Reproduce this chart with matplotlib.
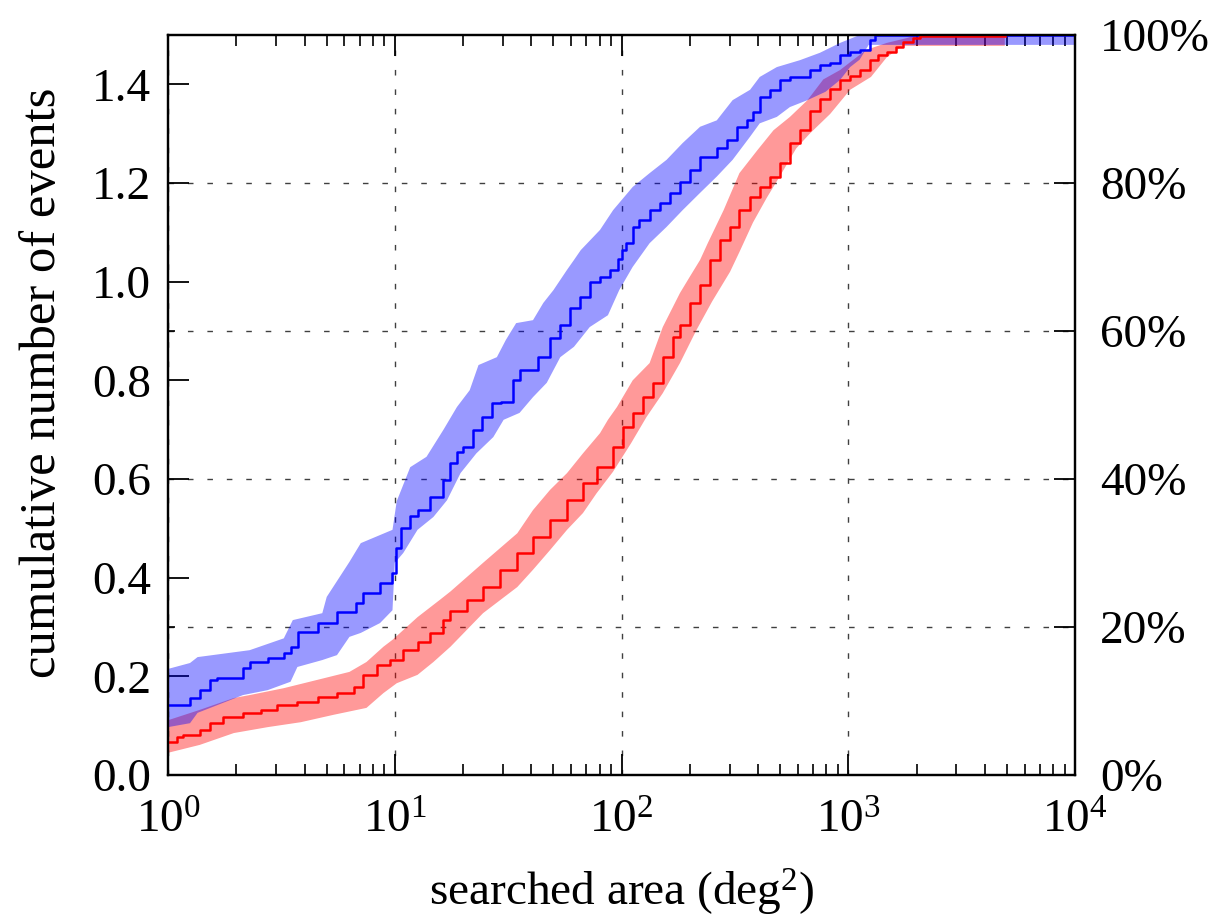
import numpy as np
import matplotlib
matplotlib.use("Agg")
import matplotlib.pyplot as plt
from matplotlib.ticker import LogLocator, FixedLocator, NullFormatter

plt.rcParams['font.family'] = ['Liberation Serif', 'DejaVu Serif']
plt.rcParams['mathtext.fontset'] = 'custom'
plt.rcParams['mathtext.rm'] = 'Liberation Serif'
plt.rcParams['mathtext.it'] = 'Liberation Serif:italic'
plt.rcParams['mathtext.bf'] = 'Liberation Serif:bold'

# ---------------- data ----------------
# blue: median cumulative curve
blue_area = [1.0, 1.25, 1.38, 1.53, 1.64, 2.14, 2.29, 2.75, 3.24, 3.47, 3.74, 4.57,
             5.56, 6.76, 7.24, 8.61, 9.77, 10.1, 10.7, 11.7, 12.6, 14.3, 16.4, 17.6,
             18.8, 20.0, 22.1, 24.3, 26.9, 29.5, 33.1, 35.5, 42.7, 48.4, 53.7, 59.3,
             65.6, 72.4, 80.4, 89.1, 96.6, 100, 105, 112, 120, 133, 148, 164, 181,
             200, 222, 263, 292, 324, 357, 380, 407, 452, 501, 553, 676, 750, 832,
             920, 1019, 1122, 1247, 1318, 10000]
blue_cum = [0.142, 0.156, 0.172, 0.193, 0.197, 0.217, 0.229, 0.237, 0.247, 0.260, 0.289, 0.308,
            0.330, 0.348, 0.369, 0.390, 0.410, 0.460, 0.500, 0.525, 0.537, 0.564, 0.598, 0.632,
            0.655, 0.665, 0.700, 0.725, 0.754, 0.756, 0.800, 0.821, 0.847, 0.886, 0.912, 0.946,
            0.969, 0.999, 1.010, 1.024, 1.045, 1.064, 1.078, 1.111, 1.125, 1.145, 1.159, 1.180, 1.202,
            1.226, 1.253, 1.270, 1.287, 1.314, 1.327, 1.344, 1.375, 1.389, 1.409, 1.415, 1.429, 1.439, 1.443,
            1.460, 1.466, 1.470, 1.490, 1.500, 1.500]

blue_hi_area = [1.0, 1.25, 1.35, 2.29, 3.24, 3.55, 4.79, 5.01, 6.31, 7.08, 9.77, 10.2,
                11.7, 13.8, 16.4, 18.8, 21.4, 23.4, 28.2, 30.9, 34.3, 40.7, 45.2, 50.1,
                57.5, 61.7, 66.1, 80.4, 91.8, 112, 133, 158, 186, 222, 263, 309, 369,
                407, 484, 612, 750, 920, 1122, 10000]
blue_hi = [0.215, 0.227, 0.239, 0.253, 0.277, 0.314, 0.328, 0.361, 0.432, 0.470, 0.497, 0.555,
           0.624, 0.645, 0.700, 0.746, 0.780, 0.831, 0.847, 0.882, 0.916, 0.922, 0.957, 0.983,
           1.024, 1.044, 1.064, 1.105, 1.145, 1.192, 1.220, 1.247, 1.281, 1.314, 1.327, 1.368, 1.389,
           1.415, 1.435, 1.449, 1.464, 1.484, 1.500, 1.500]

blue_lo_area = [1.0, 1.25, 1.35, 2.14, 2.75, 3.47, 3.72, 4.79, 5.56, 6.31, 7.08, 8.61,
                9.77, 10.0, 10.9, 12.6, 14.8, 17.0, 19.5, 22.9, 27.2, 30.2, 35.5, 40.7,
                46.8, 53.7, 61.7, 72.4, 87.1, 97.7, 112, 133, 158, 186, 222, 263, 309,
                369, 407, 484, 553, 661, 794, 920, 1019, 1122, 1230, 10000]
blue_lo = [0.097, 0.105, 0.126, 0.162, 0.172, 0.189, 0.219, 0.233, 0.243, 0.280, 0.288, 0.308,
           0.334, 0.430, 0.450, 0.497, 0.523, 0.557, 0.612, 0.652, 0.685, 0.720, 0.734, 0.766,
           0.795, 0.847, 0.868, 0.908, 0.932, 0.983, 1.030, 1.078, 1.111, 1.145, 1.180, 1.213, 1.247,
           1.294, 1.321, 1.334, 1.354, 1.368, 1.385, 1.409, 1.435, 1.450, 1.480, 1.480]

# red: median cumulative curve
red_area = [1.0, 1.10, 1.17, 1.38, 1.53, 1.74, 2.14, 2.57, 3.02, 3.72, 4.57, 5.56,
            6.61, 7.24, 8.32, 9.55, 10.9, 12.6, 14.3, 16.4, 17.6, 20.9, 24.5, 29.1,
            34.7, 40.7, 48.4, 57.5, 67.6, 77.6, 91.8, 102, 112, 124, 138, 152, 169,
            181, 200, 222, 245, 272, 301, 331, 369, 407, 452, 501, 553, 612, 676,
            750, 832, 920, 1019, 1122, 1247, 1349, 1479, 1622, 1738, 1928, 2070, 4900]
red_cum = [0.067, 0.077, 0.081, 0.091, 0.105, 0.118, 0.126, 0.132, 0.142, 0.148, 0.158, 0.166,
           0.178, 0.203, 0.223, 0.233, 0.253, 0.270, 0.288, 0.314, 0.332, 0.355, 0.381, 0.416,
           0.450, 0.483, 0.517, 0.557, 0.592, 0.624, 0.665, 0.705, 0.734, 0.766, 0.795, 0.847, 0.888,
           0.912, 0.957, 0.993, 1.044, 1.084, 1.111, 1.145, 1.172, 1.192, 1.213, 1.240, 1.281, 1.307, 1.345,
           1.370, 1.390, 1.408, 1.416, 1.430, 1.449, 1.460, 1.466, 1.476, 1.486, 1.494, 1.498, 1.498]

red_hi_area = [1.0, 1.38, 1.95, 2.29, 3.24, 4.57, 6.31, 7.50, 8.91, 9.77, 12.6, 15.8,
               17.6, 24.5, 34.7, 40.7, 48.4, 57.5, 67.6, 80.4, 87.1, 95.5, 112, 133,
               152, 181, 200, 222, 240, 282, 331, 398, 468, 553, 661, 776, 920, 1047,
               1202, 1479, 1820, 1995, 4900]
red_hi = [0.111, 0.132, 0.156, 0.162, 0.176, 0.193, 0.209, 0.229, 0.260, 0.274, 0.320, 0.355,
          0.372, 0.430, 0.490, 0.537, 0.578, 0.612, 0.652, 0.693, 0.720, 0.746, 0.800, 0.835,
          0.908, 0.977, 1.010, 1.044, 1.078, 1.145, 1.220, 1.267, 1.307, 1.334, 1.368, 1.410, 1.429, 1.449,
          1.470, 1.484, 1.494, 1.500, 1.500]

red_lo_area = [1.0, 1.38, 1.95, 2.75, 3.85, 5.37, 7.50, 8.91, 10.2, 12.6, 14.8, 17.6,
               24.5, 34.7, 40.7, 48.4, 57.5, 67.6, 77.6, 91.8, 110, 129, 152, 181,
               214, 251, 301, 331, 380, 437, 501, 589, 676, 832, 1019, 1259, 1479,
               1738, 4900]
red_lo = [0.045, 0.061, 0.085, 0.097, 0.107, 0.122, 0.136, 0.166, 0.186, 0.203, 0.229, 0.260,
          0.328, 0.381, 0.416, 0.456, 0.497, 0.531, 0.571, 0.615, 0.672, 0.726, 0.774, 0.835,
          0.902, 0.960, 1.020, 1.060, 1.120, 1.170, 1.215, 1.270, 1.300, 1.340, 1.389, 1.415, 1.455,
          1.478, 1.478]

pct_ticks = [0, 20, 40, 60, 80, 100]
pct_labels = ['0%', '20%', '40%', '60%', '80%', '100%']
left_ticks = [0.0, 0.2, 0.4, 0.6, 0.8, 1.0, 1.2, 1.4]
left_labels = ['0.0', '0.2', '0.4', '0.6', '0.8', '1.0', '1.2', '1.4']


def band(ax, xh, yh, xl, yl, color, alpha, z):
    xh, yh, xl, yl = (np.asarray(v, float) for v in (xh, yh, xl, yl))
    ax.fill(np.concatenate([xh, xl[::-1]]), np.concatenate([yh, yl[::-1]]),
            color=color, alpha=alpha, lw=0, zorder=z)


FS = 34
DASH = (0, (4, 10))
fig = plt.figure(figsize=(12.15, 9.19), dpi=100)
ax = fig.add_axes([0.1383, 0.1567, 0.8848 - 0.1383, 0.9619 - 0.1567])

band(ax, red_hi_area, red_hi, red_lo_area, red_lo, '#ff0000', 0.4, 2)
band(ax, blue_hi_area, blue_hi, blue_lo_area, blue_lo, '#0000ff', 0.4, 3)
ax.step(blue_area, blue_cum, where='post', color='#0000ff', lw=1.8, zorder=4)
ax.step(red_area, red_cum, where='post', color='#ff0000', lw=1.8, zorder=5)

ax.set_xscale('log')
ax.set_xlim(1, 1e4)
ax.set_ylim(0, 1.5)

ax.xaxis.set_major_locator(LogLocator(base=10, numticks=10))
ax.xaxis.set_minor_locator(LogLocator(base=10, subs=np.arange(2, 10), numticks=20))
ax.xaxis.set_minor_formatter(NullFormatter())
ax.set_yticks(left_ticks)
ax.set_yticklabels(left_labels)
ax.yaxis.set_minor_locator(FixedLocator([0.3, 0.9]))

ax.tick_params(axis='x', which='major', direction='in', length=15, width=1.3,
               top=True, bottom=True, labelsize=FS, pad=18)
ax.tick_params(axis='x', which='minor', direction='in', length=8, width=1.2,
               top=True, bottom=True)
ax.tick_params(axis='y', which='major', direction='in', length=15, width=1.3,
               left=True, right=False, labelsize=FS, pad=12)
ax.tick_params(axis='y', which='minor', direction='in', length=5, width=1.2,
               left=True, right=False)

for s in ax.spines.values():
    s.set_linewidth(1.6)

ax.grid(True, which='major', axis='x', color='0.25', lw=1.0, linestyle=DASH)
for yv in pct_ticks[1:-1]:
    ax.axhline(yv / 100 * 1.5, color='0.25', lw=1.0, linestyle=DASH, zorder=1)

ax2 = ax.twinx()
ax2.set_ylim(0, 100)
ax2.set_yticks(pct_ticks)
ax2.set_yticklabels(pct_labels)
ax2.tick_params(axis='y', direction='in', length=15, width=1.3, labelsize=FS, pad=18)
for s in ax2.spines.values():
    s.set_linewidth(1.6)

ax.set_ylabel('cumulative number of events', fontsize=36.5)
ax.yaxis.set_label_coords(-0.112, 0.53)
ax.set_xlabel(r'searched area (deg$^2$)', fontsize=FS, labelpad=18)

fig.savefig('out.png', dpi=100)
